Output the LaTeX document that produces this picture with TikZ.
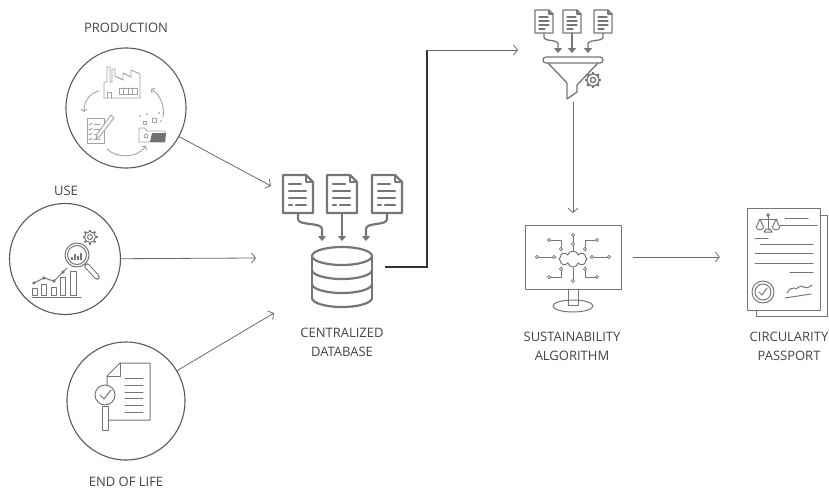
\documentclass[tikz,border=0pt]{standalone}
\usepackage{fontspec}
\setmainfont{Open Sans}
\usetikzlibrary{positioning, arrows.meta, shapes.symbols}
\definecolor{txtgray}{HTML}{444444}
\definecolor{ringgray}{HTML}{5A5A5A}
\definecolor{icongray}{HTML}{767676}
\definecolor{softgray}{HTML}{A2A2A2}
\definecolor{linegray}{HTML}{6A6A6A}

\begin{document}
\begin{tikzpicture}
    [
        x=1pt, y=-1pt,
        stage/.style={circle, draw=ringgray, line width=1.1pt, inner sep=0pt},
        caption/.style={text=txtgray, font=\fontsize{13}{19}\selectfont, align=center},
        slot/.style={inner sep=0pt, minimum width=#1},
        flow/.style={-{Straight Barb[length=4pt, width=10pt]}, draw=linegray, line width=0.8pt},
        trunk/.style={draw=black!80, line width=2pt},
        icon/.style={draw=icongray, line width=1.1pt, line join=round, line cap=round},
        soft/.style={draw=softgray, line width=0.9pt, line join=round, line cap=round},
        drop/.style={-{Triangle[length=5pt, width=8pt]}},
        pin/.style={draw=icongray, fill=white, line width=0.8pt},
    ]
        \useasboundingbox (0,0) rectangle (829,490);

        % stages on the left
        \node[stage, minimum size=120pt] (prod) at (126,108) {};
        \node[stage, minimum size=111pt] (use) at (65,259) {};
        \node[stage, minimum size=118pt] (eol) at (126,401) {};
        \node[caption] (prod-t) at (126,28) {PRODUCTION};
        \node[caption] (use-t) at (66,191) {USE};
        \node[caption] (eol-t) at (126,482) {END OF LIFE};

        % main chain
        \node[slot=62pt, minimum height=60pt] (db) at (342,277) {};
        \node[slot=64pt, minimum height=88pt] (filter) at (573,58) {};
        \node[slot=96pt, minimum height=64pt] (algo) at (573,257) {};
        \node[slot=73pt, minimum height=102pt] (pass) at (783.5,259) {};
        \node[caption] (db-t) at (342,342.5) {CENTRALIZED\\DATABASE};
        \node[caption] (algo-t) at (572,346) {SUSTAINABILITY\\ALGORITHM};
        \node[caption] (pass-t) at (789,346) {CIRCULARITY\\PASSPORT};

        \coordinate (db-in1) at (271,186);
        \coordinate (db-in2) at (256,258);
        \coordinate (db-in3) at (274,313);
        \coordinate (db-out) at (385,267);
        \coordinate (turn) at (427,50);
        \coordinate (filter-in) at (518,50);

        \draw[flow] (prod) -- (db-in1);
        \draw[flow] (use) -- (db-in2);
        \draw[flow] (eol) -- (db-in3);
        \draw[trunk] (db-out) -| (turn);
        \draw[flow] (turn) -- (filter-in);
        \draw[flow, shorten >=12pt] (filter) -- (algo);
        \draw[flow, shorten <=12pt, shorten >=27pt] (algo.east) -- (algo.east -| pass.west);

        % production cycle
        \begin{scope}[soft]
            \draw (104,98) -- (104,82) -- (107,82) -- (107,67) -- (110,67) -- (110,82) -- (112,82)
                -- (112,69) -- (115,69) -- (115,76) -- (123,80) -- (123,73) -- (131,77) -- (131,70)
                -- (140,74) -- (140,98) -- cycle;
            \draw (119,88) rectangle (137,94);
            \foreach \x in {123.5,128,132.5} \draw (\x,88) -- (\x,94);
            \draw (107,98) -- (107,92) -- (111,92) -- (111,98);
            \draw[-{Straight Barb[length=2.5pt, width=6pt]}] (99,91) .. controls (90,93) and (84,101) .. (84,112);
            \draw (87,118) rectangle (104,143);
            \foreach \y in {124,129,134,139} {
                \draw (89,\y) -- (90,{\y+1}) -- (92,{\y-1});
                \draw (94,\y) -- (100,\y);
            }
            \draw[fill=white] (111,115) -- (114,118) -- (100,136) -- (96,139) -- (97,134) -- cycle;
            \draw[-{Straight Barb[length=2.5pt, width=6pt]}] (107,149) .. controls (116,158) and (136,159) .. (146,146);
            \draw (139,142) -- (139,128) -- (145,128) -- (147,131) -- (165,131) -- (165,142) -- cycle;
            \fill[softgray!70!black] (152,133) -- (166,133) -- (165,142) -- (150,142) -- cycle;
            \draw (146,136) circle (2);
            \draw (143,121) rectangle (146,124);
            \draw (152,118) rectangle (156,122);
            \foreach \p in {(140,116),(147,114),(159,113),(161,121)} \fill[softgray] \p circle (1);
            \draw[-{Straight Barb[length=2.5pt, width=6pt]}] (163,117) .. controls (165,105) and (160,95) .. (151,89);
        \end{scope}

        % use: chart under the lens
        \begin{scope}[icon, line width=1pt]
            \draw (32,297) -- (81,297);
            \draw (32,288) rectangle (37,295);
            \draw (41,284) rectangle (46,295);
            \draw (51,287) rectangle (56,295);
            \draw (60,277) rectangle (65,295);
            \draw (70,271) rectangle (76,295);
            \draw (34,283) -- (44,278) -- (54,281) -- (63,272) -- (67,268);
            \foreach \p in {(34,283),(44,278),(54,281),(63,272)} \filldraw[fill=icongray] \p circle (1.2);
            \draw[fill=white] (77,255) circle (12);
            \draw (77,255) circle (9.5);
            \foreach \x/\h in {72/3,75/6,78/4,81/7} \draw[line width=1.6pt, line cap=butt] (\x,260) -- (\x,{260-\h});
            \draw[line width=1pt, double=white, double distance=3.5pt] (87,266) -- (97,277);
            \draw (90,237) circle (5.5);
            \draw (90,237) circle (2.5);
            \foreach \a in {0,45,...,315} \draw[line width=2pt, line cap=butt] (90,237) ++(\a:5.5) -- ++(\a:2);
        \end{scope}

        % end of life: page and lens
        \begin{scope}[icon, line width=1pt]
            \draw (107,385) -- (107,376) -- (120,363) -- (150,363) -- (150,420) -- (109,420);
            \draw (107,376) -- (120,376) -- (120,363);
            \foreach \y in {378,385,392,398,405,412} \draw (125,\y) -- (143,\y);
            \draw[fill=white] (105,395) circle (10);
            \draw (100,395) -- (104,399) -- (111,390);
            \draw[fill=white] (102,406) rectangle (108,430);
        \end{scope}

        % database with incoming files
        \begin{scope}[icon, line width=2.2pt]
            \foreach \x in {298,342,387} {
                \draw ({\x-15},175) -- ({\x+8},175) -- ({\x+15},182) -- ({\x+15},213) -- ({\x-15},213) -- cycle;
                \draw ({\x+8},175) -- ({\x+8},182) -- ({\x+15},182);
                \draw ({\x-9},184) -- ({\x+3},184);
                \draw ({\x-9},191) -- ({\x+8},191);
                \draw ({\x-9},198) -- ({\x+8},198);
                \draw ({\x-9},205) -- ({\x-6},205);
                \draw ({\x-2},205) -- ({\x+8},205);
            }
            \draw[drop] (298,213) -- (298,219) .. controls (298,226) and (322,222) .. (322,229) -- (322,241);
            \draw[drop] (342,213) -- (342,241);
            \draw[drop] (387,213) -- (387,219) .. controls (387,226) and (366,222) .. (366,229) -- (366,241);
            \draw (342,256) ellipse [x radius=30, y radius=9];
            \draw (312,256) -- (312,298);
            \draw (372,256) -- (372,298);
            \foreach \y in {270,284,298} \draw (312,\y) arc[start angle=180, end angle=0, x radius=30, y radius=9];
        \end{scope}

        % filter with gear
        \begin{scope}[icon, line width=1.3pt]
            \foreach \x in {544,572,603} {
                \draw ({\x-9},10) -- ({\x+5},10) -- ({\x+9},14) -- ({\x+9},33) -- ({\x-9},33) -- cycle;
                \draw ({\x+5},10) -- ({\x+5},14) -- ({\x+9},14);
                \draw ({\x-5},17) -- ({\x+4},17);
                \draw ({\x-5},21) -- ({\x+5},21);
                \draw ({\x-5},25) -- ({\x+5},25);
                \draw ({\x-5},29) -- ({\x+1},29);
            }
            \draw[drop] (544,33) -- (544,37) .. controls (544,42) and (558,39) .. (558,44) -- (558,53);
            \draw[drop] (572,33) -- (572,53);
            \draw[drop] (603,33) -- (603,37) .. controls (603,42) and (588,39) .. (588,44) -- (588,53);
            \draw[rounded corners=3pt] (543,57) rectangle (603,63);
            \draw (548,63) -- (567,83) -- (567,99) -- (577,92) -- (577,85) -- (598,63);
            \filldraw[fill=white] (593,80) circle (6);
            \draw (593,80) circle (2.6);
            \foreach \a in {0,45,...,315} \draw[line width=2.4pt, line cap=butt] (593,80) ++(\a:6) -- ++(\a:2.2);
        \end{scope}

        % monitor with circuit
        \begin{scope}[icon, line width=1pt]
            \draw (525,225) rectangle (621,289);
            \draw (568,289) -- (568,305) -- (578,305) -- (578,289);
            \draw (573,306) ellipse [x radius=20, y radius=6];
            \node[cloud, draw=icongray, line width=1pt, cloud puffs=8, aspect=2, minimum width=28pt, minimum height=16pt, inner sep=0pt] (cloud) at (573,259) {};
            \draw (573,251) -- (573,235);
            \draw (549,240) -- (561,240) -- (561,251);
            \draw (597,240) -- (585,240) -- (585,251);
            \draw (537,257) -- (556,257);
            \draw (590,257) -- (609,257);
            \draw (561,267) -- (561,277) -- (549,277);
            \draw (573,268) -- (573,281);
            \draw (585,267) -- (585,277) -- (597,277);
            \foreach \p in {(573,235),(573,244),(549,240),(561,249),(597,240),(585,249),(537,257),(554,257),
                (592,257),(609,257),(561,269),(549,277),(573,281),(585,269),(597,277)}
                \draw[pin] \p circle (1.6);
        \end{scope}

        % passport
        \begin{scope}[icon, line width=1pt]
            \draw (756,310) -- (756,316) -- (827,316) -- (827,215) -- (820,215);
            \draw (747,208) rectangle (820,310);
            \draw (768,216) -- (768,230);
            \draw (759,219) -- (777,219);
            \draw (768,215) circle (1.4);
            \draw (760,219) -- (757,226) (760,219) -- (763,226);
            \draw (776,219) -- (773,226) (776,219) -- (779,226);
            \draw (756,226) arc[start angle=180, end angle=0, radius=4];
            \draw (772,226) arc[start angle=180, end angle=0, radius=4];
            \draw (764,232) -- (772,232) -- (770,229) -- (766,229) -- cycle;
            \draw (785,218) -- (808,218);
            \draw (780,225) -- (817,225);
            \draw (755,238) -- (768,238);
            \draw (760,244) -- (813,244);
            \draw (755,253) -- (813,253);
            \draw (755,263) -- (813,263);
            \draw (790,272) -- (813,272);
            \draw (763,292) circle (11);
            \draw (763,292) circle (8);
            \draw (759,292) -- (762,295) -- (767,288);
            \draw (785,298) -- (811,294);
            \draw (787,293) .. controls (792,284) and (796,291) .. (799,287) .. controls (802,283) and (804,292) .. (812,285);
        \end{scope}
\end{tikzpicture}
\end{document}
